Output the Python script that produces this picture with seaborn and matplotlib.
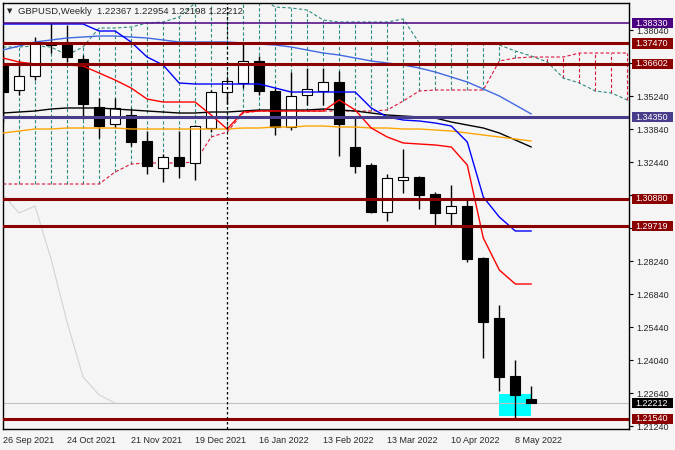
import numpy as np
import matplotlib
matplotlib.use("Agg")
import matplotlib.pyplot as plt
import matplotlib.transforms as mtransforms
from matplotlib.patches import Rectangle
import seaborn as sns

# weekly GBPUSD bars, week 0 = 26 Sep 2021, last = 15 May 2022
opens = [1.3665, 1.3550, 1.3609, 1.3742, 1.3749, 1.3681, 1.3478, 1.3405, 1.3443, 1.3333,
         1.3219, 1.3265, 1.3240, 1.3388, 1.3541, 1.3579, 1.3673, 1.3545, 1.3393, 1.3530,
         1.3545, 1.3584, 1.3308, 1.3230, 1.3032, 1.3168, 1.3180, 1.3108, 1.3028, 1.3057,
         1.2837, 1.2582, 1.2336, 1.22367]
highs = [1.3700, 1.3675, 1.3775, 1.3834, 1.3825, 1.3700, 1.3515, 1.3514, 1.3472, 1.3375,
         1.3280, 1.3375, 1.3400, 1.3550, 1.3600, 1.3749, 1.3695, 1.3560, 1.3628, 1.3645,
         1.3645, 1.3630, 1.3437, 1.3240, 1.3195, 1.3299, 1.3185, 1.3115, 1.3146, 1.3087,
         1.2841, 1.2637, 1.2404, 1.22954]
lows = [1.3412, 1.3530, 1.3590, 1.3705, 1.3670, 1.3425, 1.3346, 1.3390, 1.3310, 1.3195,
        1.3160, 1.3175, 1.3168, 1.3370, 1.3490, 1.3560, 1.3530, 1.3358, 1.3380, 1.3486,
        1.3486, 1.3270, 1.3197, 1.3027, 1.2995, 1.3113, 1.3045, 1.2977, 1.2977, 1.2820,
        1.2412, 1.2273, 1.2156, 1.22198]
closes = [1.3540, 1.3609, 1.3749, 1.3750, 1.3690, 1.3490, 1.3397, 1.3473, 1.3329, 1.3227,
          1.3265, 1.3227, 1.3397, 1.3541, 1.3588, 1.3673, 1.3545, 1.3393, 1.3526, 1.3552,
          1.3585, 1.3405, 1.3227, 1.3030, 1.3176, 1.3180, 1.3106, 1.3028, 1.3057, 1.2833,
          1.2565, 1.2332, 1.2256, 1.22212]

# ichimoku + moving averages (one value per week)
tenkan = [1.36854, 1.36684, 1.36599, 1.36557, 1.36557, 1.36515, 1.36218, 1.35921, 1.35581, 1.35114,
          1.34987, 1.34987, 1.34987, 1.34436, 1.33842, 1.34563, 1.34605, 1.34605, 1.34605, 1.34605,
          1.34605, 1.35072, 1.34648, 1.33884, 1.33502, 1.33248, 1.33205, 1.33163, 1.33078, 1.32314,
          1.29217, 1.27859, 1.27265, 1.27265]
kijun = [1.38297, 1.38297, 1.38297, 1.38297, 1.38297, 1.38297, 1.38000, 1.38000, 1.37533, 1.36896,
         1.36557, 1.35793, 1.35751, 1.35751, 1.35751, 1.35751, 1.35751, 1.35581, 1.35411, 1.35411,
         1.35411, 1.35411, 1.35411, 1.34733, 1.34351, 1.34223, 1.34181, 1.34096, 1.33969, 1.33290,
         1.30956, 1.30108, 1.29514, 1.29514]
ma_blue = [1.37193, 1.37363, 1.37533, 1.37618, 1.37703, 1.37745, 1.37788, 1.37788, 1.37745, 1.37703,
           1.37618, 1.37533, 1.37533, 1.37533, 1.37533, 1.37491, 1.37448, 1.37406, 1.37321, 1.37193,
           1.37066, 1.36981, 1.36854, 1.36727, 1.36642, 1.36557, 1.36430, 1.36260, 1.36048, 1.35836,
           1.35539, 1.35242, 1.34860, 1.34478]
ma_black = [1.34520, 1.34563, 1.34605, 1.34690, 1.34733, 1.34733, 1.34733, 1.34690, 1.34648, 1.34605,
            1.34563, 1.34520, 1.34520, 1.34563, 1.34563, 1.34605, 1.34648, 1.34648, 1.34648, 1.34648,
            1.34690, 1.34648, 1.34605, 1.34520, 1.34436, 1.34393, 1.34351, 1.34308, 1.34139, 1.34011,
            1.33884, 1.33672, 1.33375, 1.33078]
ma_orange = [1.33672, 1.33757, 1.33842, 1.33842, 1.33884, 1.33884, 1.33884, 1.33884, 1.33842, 1.33842,
             1.33842, 1.33842, 1.33842, 1.33842, 1.33842, 1.33884, 1.33884, 1.33926, 1.33926, 1.33969,
             1.33969, 1.33926, 1.33926, 1.33884, 1.33884, 1.33842, 1.33842, 1.33799, 1.33757, 1.33672,
             1.33587, 1.33502, 1.33417, 1.33332]
span_a = [1.31508, 1.31508, 1.31508, 1.31508, 1.31508, 1.31508, 1.31508, 1.32017, 1.32356, 1.32399,
          1.32399, 1.32399, 1.32441, 1.33502, 1.33714, 1.34520, 1.34605, 1.34605, 1.34605, 1.34605,
          1.34605, 1.34605, 1.34605, 1.34605, 1.34648, 1.35030, 1.35454, 1.35496, 1.35496, 1.35496,
          1.35496, 1.36727, 1.36854, 1.36896, 1.36896, 1.36896, 1.37066, 1.37066, 1.37066, 1.37066]
span_b = [1.37321, 1.37321, 1.37363, 1.37321, 1.36981, 1.37321, 1.38127, 1.38127, 1.38169, 1.38339,
          1.38382, 1.38594, 1.39188, 1.39527, 1.39527, 1.39527, 1.39442, 1.39018, 1.38976, 1.38891,
          1.38466, 1.38382, 1.38382, 1.38382, 1.38382, 1.38509, 1.37491, 1.37491, 1.37491, 1.37491,
          1.37491, 1.37406, 1.37151, 1.36939, 1.36684, 1.36005, 1.35793, 1.35454, 1.35369, 1.35072]

# horizontal levels drawn on the chart
level_prices = [1.38330, 1.37470, 1.36602, 1.34350, 1.30880, 1.29719, 1.21540]
level_colors = ["#4B0082", "#8B0000", "#8B0000", "#483D8B", "#8B0000", "#8B0000", "#8B0000"]
level_widths = [1.1, 2.2, 2.2, 2.2, 2.2, 2.2, 2.2]

# highlighted zone (cyan box)
zone_weeks = [31, 33]
zone_prices = [1.21664, 1.22598]

marker_week = 14  # dotted vertical line (2 Jan 2022)

x_tick_weeks = [0, 4, 8, 12, 16, 20, 24, 28, 32]
x_tick_labels = ["26 Sep 2021", "24 Oct 2021", "21 Nov 2021", "19 Dec 2021", "16 Jan 2022",
                 "13 Feb 2022", "13 Mar 2022", "10 Apr 2022", "8 May 2022"]
y_ticks = [1.21240, 1.22640, 1.24040, 1.25440, 1.26840, 1.28240, 1.29640,
           1.31040, 1.32440, 1.33840, 1.35240, 1.36640, 1.38040]
# scale values that sit under a level label box in the reference
y_hidden = [1.29640, 1.31040, 1.36640]

BG = "#F5F5F5"
TEAL = "#2E8B80"
CRIMSON = "#DC143C"

sns.set_style("white")
plt.rcParams["font.family"] = ["Liberation Sans", "DejaVu Sans"]

fig = plt.figure(figsize=(6.75, 4.5), dpi=100, facecolor=BG)
ax = fig.add_axes([3 / 675, 21.5 / 450, 626 / 675, 425.5 / 450])
ax.set_facecolor(BG)

weeks = np.arange(len(opens))
cloud_weeks = np.arange(len(span_a))

# --- ichimoku cloud hatching ---
for k, a, b in zip(cloud_weeks, span_a, span_b):
    col = TEAL if b > a else CRIMSON
    ax.vlines(k, min(a, b), max(a, b), colors=col, linestyles=(0, (3, 2)),
              linewidth=0.8, zorder=1)
sns.lineplot(x=cloud_weeks, y=span_b, ax=ax, color=TEAL, linewidth=0.8,
             linestyle=(0, (3, 2)), zorder=1.2)
sns.lineplot(x=cloud_weeks, y=span_a, ax=ax, color=CRIMSON, linewidth=0.8,
             linestyle=(0, (3, 2)), zorder=1.2)

# --- zone and current price line ---
ax.add_patch(Rectangle((zone_weeks[0], zone_prices[0]), zone_weeks[1] - zone_weeks[0],
                       zone_prices[1] - zone_prices[0], facecolor="#00FFFF",
                       edgecolor="none", zorder=1.5))
ax.axhline(closes[-1], color="#C0C0C0", linewidth=0.8, zorder=1.6)

# chikou span: close shifted back 26 weeks
sns.lineplot(x=weeks - 26, y=closes, ax=ax, color="#D3D3D3", linewidth=0.8, zorder=1.7)

# --- candles ---
o = np.array(opens)
c = np.array(closes)
up = c >= o
ax.vlines(weeks, lows, highs, colors="black", linewidth=1.0, zorder=2)
ax.bar(weeks, np.abs(c - o), bottom=np.minimum(o, c), width=0.64,
       color=np.where(up, "white", "black"), edgecolor="black", linewidth=0.8, zorder=2.1)

# --- indicator lines ---
sns.lineplot(x=weeks, y=ma_blue, ax=ax, color="#4169E1", linewidth=1.0, zorder=3)
sns.lineplot(x=weeks, y=ma_black, ax=ax, color="black", linewidth=1.0, zorder=3)
sns.lineplot(x=weeks, y=ma_orange, ax=ax, color="#FFA500", linewidth=1.0, zorder=3)
sns.lineplot(x=weeks, y=kijun, ax=ax, color="#0000FF", linewidth=1.0, zorder=3.1)
sns.lineplot(x=weeks, y=tenkan, ax=ax, color="#FF0000", linewidth=1.0, zorder=3.1)

# --- horizontal levels ---
for p, col, lw in zip(level_prices, level_colors, level_widths):
    ax.axhline(p, color=col, linewidth=lw, zorder=3.5)

ax.axvline(marker_week, color="black", linewidth=0.9, linestyle=(0, (2, 2)), zorder=4)

# --- axes ---
ax.set_xlim(0, 39.1)
ax.set_ylim(1.21134, 1.39188)
ax.set_xlabel("")
ax.set_ylabel("")
ax.set_xticks(x_tick_weeks)
ax.set_xticklabels(x_tick_labels, ha="left", fontsize=6.5)
ax.yaxis.tick_right()
ax.set_yticks(y_ticks)
ax.set_yticklabels(["" if v in y_hidden else f"{v:.5f}" for v in y_ticks], fontsize=6.5)
ax.tick_params(axis="x", direction="out", length=3, pad=2.5, color="black")
ax.tick_params(axis="y", direction="out", length=3, pad=2.0, color="black")
for s in ax.spines.values():
    s.set_color("black")
    s.set_linewidth(1.0)
    s.set_visible(True)

# --- price labels in the right scale ---
trans = mtransforms.blended_transform_factory(ax.transAxes, ax.transData)
box_x, box_w, box_h = 1.0048, 0.0655, 0.0043
label_prices = level_prices + [closes[-1]]
label_colors = level_colors + ["black"]
for p, col in zip(label_prices, label_colors):
    ax.add_patch(Rectangle((box_x, p - box_h / 2), box_w, box_h, transform=trans,
                           facecolor=col, edgecolor="none", clip_on=False, zorder=6))
    ax.text(box_x + 0.0055, p, f"{p:.5f}", transform=trans, color="white", ha="left",
            va="center", fontsize=6.5, clip_on=False, zorder=7)

# --- header ---
ax.text(0.006, 0.981, "\u25BC", transform=ax.transAxes, fontsize=5, ha="left", va="center",
        family="DejaVu Sans", zorder=8)
title = f"GBPUSD,Weekly  {opens[-1]:.5f} {highs[-1]:.5f} {lows[-1]:.5f} {closes[-1]:.5f}"
ax.text(0.024, 0.981, title, transform=ax.transAxes, fontsize=6.8, ha="left", va="center",
        zorder=8)

fig.savefig("out.png", dpi=100, facecolor=BG)
